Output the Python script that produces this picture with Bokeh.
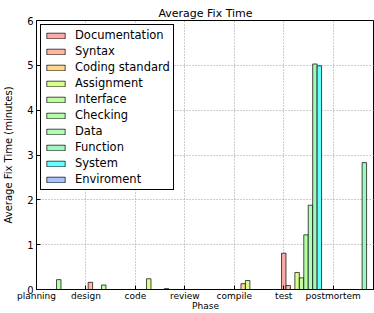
from bokeh.plotting import figure
from bokeh.models import FixedTicker, Legend, LegendItem, Range1d
from bokeh.embed import file_html
from bokeh.resources import INLINE

phases = ["planning", "design", "code", "review", "compile", "test", "postmortem"]
defect_types = ["Documentation", "Syntax", "Coding standard", "Assignment", "Interface",
                "Checking", "Data", "Function", "System", "Enviroment"]
colors = ["#ffa8a8", "#ffb8a2", "#ffd98a", "#dcff8c", "#c2ffa0",
          "#b6ffaa", "#b0ffb8", "#a0f8c0", "#66ffff", "#a6c2ff"]

documentation = [0, 0, 0, 0, 0, 0.81, 0]
syntax = [0, 0.16, 0, 0, 0, 0.09, 0]
coding_standard = [0, 0, 0, 0, 0.13, 0, 0]
assignment = [0, 0, 0.24, 0, 0.20, 0.38, 0]
interface = [0, 0.10, 0, 0, 0, 0.26, 0]
checking = [0.22, 0, 0, 0, 0, 1.22, 0]
data = [0, 0, 0, 0, 0, 1.88, 0]
function = [0, 0, 0.02, 0, 0, 5.03, 2.83]
system = [0, 0, 0, 0, 0, 4.99, 0]
enviroment = [0, 0, 0, 0, 0, 0, 0]
series = [documentation, syntax, coding_standard, assignment, interface,
          checking, data, function, system, enviroment]

y_ticks = [0, 1, 2, 3, 4, 5, 6]
bar_width = 0.09
FONT = "DejaVu Sans"

p = figure(width=374, height=313, output_backend="svg", toolbar_location=None,
           title="Average Fix Time",
           x_range=Range1d(0, 6.835), y_range=Range1d(0, 6),
           min_border_left=35, min_border_right=0, min_border_top=20, min_border_bottom=24)
p.background_fill_color = "white"
p.border_fill_color = "white"
p.outline_line_color = "black"
p.outline_line_width = 1

p.title.text_font = FONT
p.title.text_font_size = "11px"
p.title.text_font_style = "normal"
p.title.text_color = "black"
p.title.align = "center"
p.title.standoff = 2
p.title.offset = 0

items = []
for j, (name, vals, col) in enumerate(zip(defect_types, series, colors)):
    xs = [i + j * bar_width for i in range(len(phases))]
    r = p.vbar(x=xs, top=vals, bottom=0, width=bar_width,
               fill_color=col, fill_alpha=1.0,
               line_color="black", line_alpha=0.7, line_width=1)
    items.append(LegendItem(label=name, renderers=[r]))

legend = Legend(items=items, location="top_left", margin=4,
                padding=3, spacing=2, label_height=11, glyph_height=7, glyph_width=23,
                label_standoff=8, label_text_font=FONT, label_text_font_size="11.5px",
                label_text_color="black",
                border_line_color="black", border_line_alpha=1, border_line_width=1,
                background_fill_color="white", background_fill_alpha=1)
p.add_layout(legend)

p.xaxis.ticker = FixedTicker(ticks=list(range(len(phases))))
p.xaxis.major_label_overrides = {i: ph for i, ph in enumerate(phases)}
p.yaxis.ticker = FixedTicker(ticks=y_ticks)

p.xaxis.axis_label = "Phase"
p.yaxis.axis_label = "Average Fix Time (minutes)"
for ax in (p.xaxis[0], p.yaxis[0]):
    ax.axis_label_text_font = FONT
    ax.axis_label_text_font_style = "normal"
    ax.axis_label_text_color = "black"
    ax.major_label_text_font = FONT
    ax.major_label_text_color = "black"
    ax.axis_line_color = "black"
    ax.major_tick_in = 4
    ax.major_tick_out = 0
    ax.minor_tick_line_color = None
    ax.major_tick_line_color = "black"
p.xaxis.major_label_text_font_size = "9px"
p.xaxis.axis_label_text_font_size = "9px"
p.xaxis.major_label_standoff = 1
p.xaxis.axis_label_standoff = -3
p.yaxis.major_label_text_font_size = "10px"
p.yaxis.axis_label_text_font_size = "10px"
p.yaxis.major_label_standoff = 3
p.yaxis.axis_label_standoff = 10

p.grid.grid_line_color = "#9a9a9a"
p.grid.grid_line_dash = "1 2"
p.grid.grid_line_width = 1

open("out.html", "w").write(file_html(p, INLINE))
